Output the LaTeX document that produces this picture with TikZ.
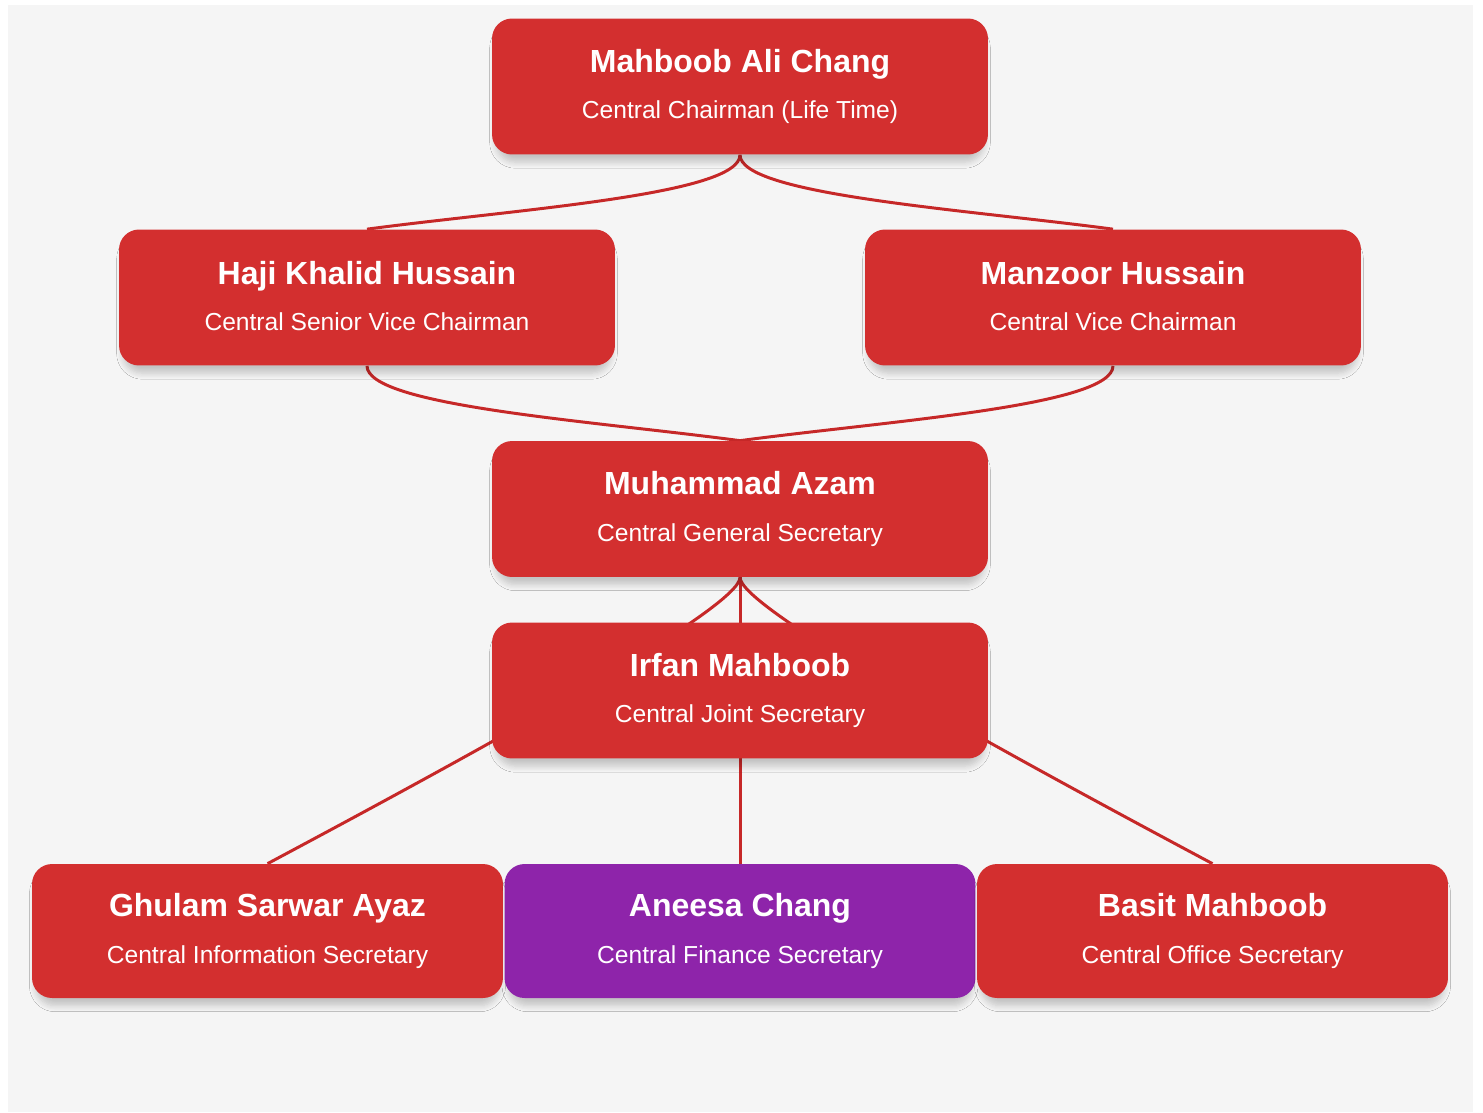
\documentclass[tikz,border=0pt]{standalone}
\usepackage{fontspec}
\setmainfont{Liberation Sans}
\usetikzlibrary{shadows.blur,backgrounds}
\definecolor{boxred}{HTML}{D32F2F}
\definecolor{boxpurple}{HTML}{8E24AA}
\definecolor{linkred}{HTML}{C62828}
\definecolor{paper}{HTML}{F5F5F5}
\newcommand{\namefont}{\fontsize{18.2}{22}\selectfont\bfseries}
\newcommand{\rolefont}{\fontsize{14}{20}\selectfont}
\newcommand{\person}[2]{\raisebox{1.7pt}{\namefont #1}\\[6.6pt]\raisebox{1.7pt}{\rolefont #2}}
\tikzset{
  member/.style={fill=boxred, text=white, rounded corners=0.4cm, align=center,
    minimum width=9.92cm, minimum height=2.72cm, inner sep=0pt, font=\rolefont,
    blur shadow={shadow xshift=0pt, shadow yshift=-5pt, shadow opacity=20, shadow blur steps=6, shadow blur radius=3.5pt, shadow scale=0.985}},
  lowmember/.style={member, minimum width=9.42cm, minimum height=2.68cm},
  link/.style={draw=linkred, line width=1.7pt}
}
\begin{document}
\begin{tikzpicture}[x=0.02cm, y=-0.02cm]
		\useasboundingbox (0,0) rectangle (1483,1112);
		\node[member] (chair) at (740,86.5) {\person{Mahboob Ali Chang}{Central Chairman (Life Time)}};
		\node[member] (haji) at (367,297.5) {\person{Haji Khalid Hussain}{Central Senior Vice Chairman}};
		\node[member] (manzoor) at (1113,297.5) {\person{Manzoor Hussain}{Central Vice Chairman}};
		\node[member] (azam) at (740,509) {\person{Muhammad Azam}{Central General Secretary}};
		\node[member] (irfan) at (740,690.5) {\person{Irfan Mahboob}{Central Joint Secretary}};
		\node[lowmember] (ghulam) at (267.5,931) {\person{Ghulam Sarwar Ayaz}{Central Information Secretary}};
		\node[lowmember, fill=boxpurple] (aneesa) at (740,931) {\person{Aneesa Chang}{Central Finance Secretary}};
		\node[lowmember] (basit) at (1212.5,931) {\person{Basit Mahboob}{Central Office Secretary}};
		\begin{scope}[on background layer]
		\fill[white] (0,0) rectangle (1483,1112);
		\fill[paper] (8,5) rectangle (1473,1112);
		\draw[link] (chair.south) .. controls +(0,40) and +(150,-20) .. (haji.north);
		\draw[link] (chair.south) .. controls +(0,40) and +(-150,-20) .. (manzoor.north);
		\draw[link] (haji.south) .. controls +(0,40) and +(-150,-20) .. (azam.north);
		\draw[link] (manzoor.south) .. controls +(0,40) and +(150,-20) .. (azam.north);
		\draw[link] (azam.south) .. controls +(0,30) and +(225,-120) .. (ghulam.north);
		\draw[link] (azam.south) -- (aneesa.north);
		\draw[link] (azam.south) .. controls +(0,30) and +(-225,-120) .. (basit.north);
		\end{scope}
		\end{tikzpicture}
\end{document}
